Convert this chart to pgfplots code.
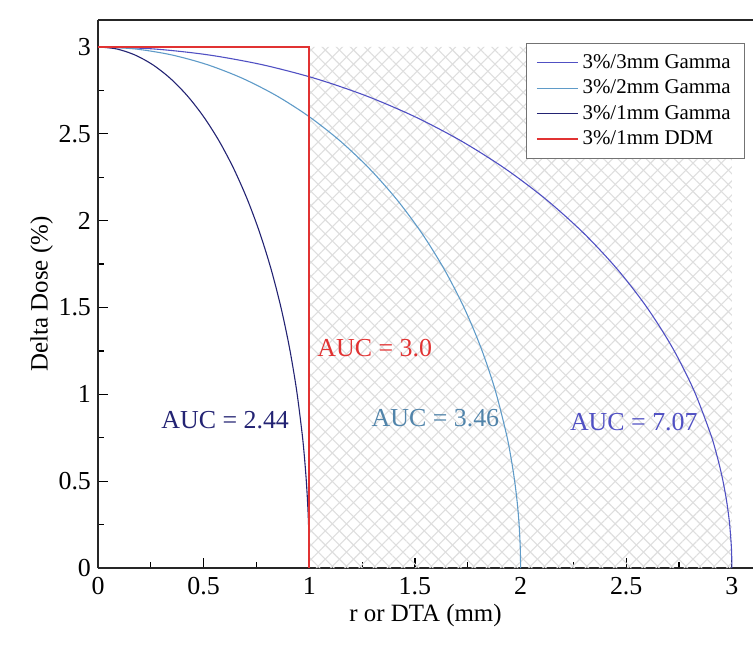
\documentclass[border=0pt]{standalone}
\usepackage{fontspec}
\setmainfont{Liberation Serif}
\usepackage{pgfplots}
\pgfplotsset{compat=1.18}
\usepackage{pgfplotstable}
\usetikzlibrary{patterns.meta}
\definecolor{cthree}{RGB}{80,80,195}
\definecolor{ctwo}{RGB}{95,155,200}
\definecolor{cone}{RGB}{35,35,115}
\definecolor{cred}{RGB}{225,50,50}
\definecolor{hatch}{RGB}{222,222,222}
\pgfplotstableread{
x1 x2 x3 y
1.0000 2.0000 3.0000 0.0000
0.9998 1.9997 2.9995 0.0524
0.9990 1.9981 2.9971 0.1309
0.9962 1.9924 2.9886 0.2615
0.9914 1.9829 2.9743 0.3916
0.9848 1.9696 2.9544 0.5209
0.9763 1.9526 2.9289 0.6493
0.9659 1.9319 2.8978 0.7765
0.9397 1.8794 2.8191 1.0261
0.9063 1.8126 2.7189 1.2679
0.8660 1.7321 2.5981 1.5000
0.8192 1.6383 2.4575 1.7207
0.7660 1.5321 2.2981 1.9284
0.7071 1.4142 2.1213 2.1213
0.6428 1.2856 1.9284 2.2981
0.5736 1.1472 1.7207 2.4575
0.5000 1.0000 1.5000 2.5981
0.4226 0.8452 1.2679 2.7189
0.3420 0.6840 1.0261 2.8191
0.2588 0.5176 0.7765 2.8978
0.1736 0.3473 0.5209 2.9544
0.0872 0.1743 0.2615 2.9886
0.0000 0.0000 0.0000 3.0000
}\curves
\begin{document}
\begin{tikzpicture}
\begin{axis}[
  width=327.5bp, height=274bp, scale only axis,
  xmin=0, xmax=3.1, ymin=0, ymax=3.155,
  axis x line*=box, axis y line*=left,
  xtick pos=left, ytick pos=left,
  axis line style={line width=0.7pt, black!85},
  xtick={0,0.5,1,1.5,2,2.5,3},
  ytick={0,0.5,1,1.5,2,2.5,3},
  minor x tick num=1, minor y tick num=1,
  tick align=inside,
  major tick length=5bp, minor tick length=3bp,
  tick style={line width=0.6pt, black},
  /pgf/number format/assume math mode=true,
  tick label style={font=\fontsize{13}{15}\selectfont},
  xticklabel style={yshift=-1bp},
  xlabel={r or DTA (mm)},
  ylabel={Delta Dose (\%)},
  label style={font=\fontsize{12.5}{15}\selectfont},
  xlabel style={yshift=2bp},
  ylabel style={yshift=-4bp},
  legend style={at={(rel axis cs:0.988,0.958)}, anchor=north east,
    draw=black!55, fill=white,
    font=\fontsize{10.5}{12}\selectfont, row sep=0.3pt,
    inner xsep=5bp, inner ysep=3.5bp},
  legend cell align=left,
  legend image post style={xscale=1.2},
  clip=false,
]
\addplot[draw=none, pattern={Lines[angle=45,distance=5bp,line width=0.55bp]}, pattern color=hatch, forget plot]
  coordinates {(1,0) (1,3) (3,3) (3,0)} \closedcycle;
\addplot[draw=none, pattern={Lines[angle=-45,distance=5bp,line width=0.55bp]}, pattern color=hatch, forget plot]
  coordinates {(1,0) (1,3) (3,3) (3,0)} \closedcycle;
\addplot[color=cthree, line width=0.55pt, smooth, mark=none] table[x=x3, y=y] {\curves};
\addlegendentry{3\%/3mm Gamma}
\addplot[color=ctwo, line width=0.55pt, smooth, mark=none] table[x=x2, y=y] {\curves};
\addlegendentry{3\%/2mm Gamma}
\addplot[color=cone, line width=0.55pt, smooth, mark=none] table[x=x1, y=y] {\curves};
\addlegendentry{3\%/1mm Gamma}
\addplot[color=cred, line width=0.9pt, mark=none] coordinates {(0,3) (1,3) (1,0)};
\addlegendentry{3\%/1mm DDM}
\node[text=cone, font=\fontsize{13}{15}\selectfont] at (axis cs:0.602,0.852) {AUC = 2.44};
\node[text=cred, font=\fontsize{13}{15}\selectfont, anchor=west] at (axis cs:1.005,1.267) {AUC = 3.0};
\node[text=ctwo!85!black, font=\fontsize{13}{15}\selectfont] at (axis cs:1.597,0.864) {AUC = 3.46};
\node[text=cthree, font=\fontsize{13}{15}\selectfont] at (axis cs:2.536,0.841) {AUC = 7.07};
\coordinate (bbl) at (rel axis cs:-0.1496,-0.1387);
\coordinate (btr) at (rel axis cs:1,1.0365);
\end{axis}
\pgfresetboundingbox
\path[use as bounding box] (bbl) rectangle (btr);
\end{tikzpicture}
\end{document}
